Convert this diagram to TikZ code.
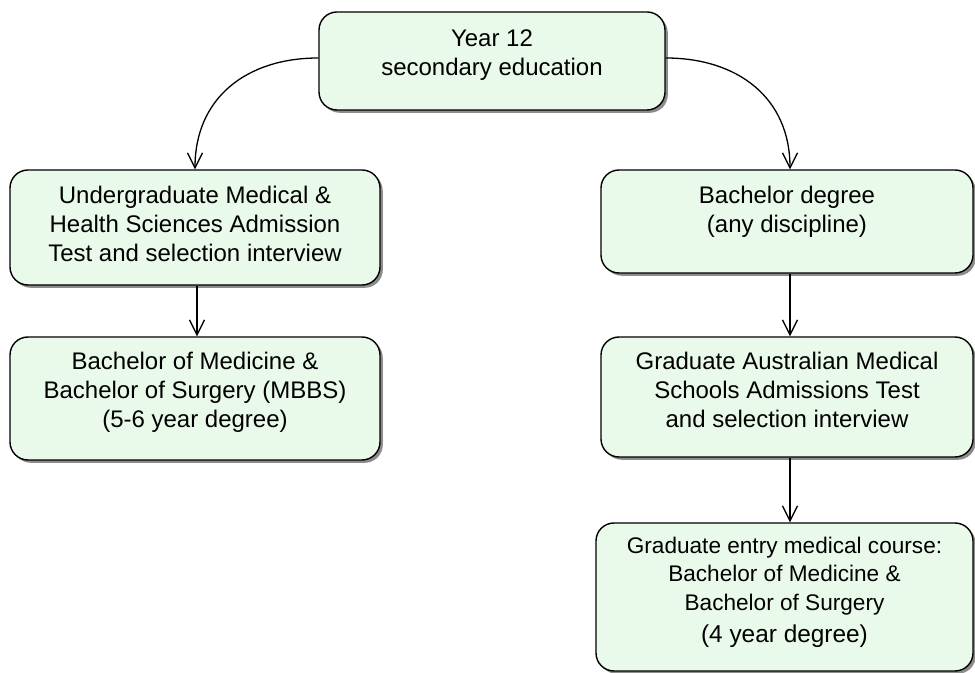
\documentclass[tikz,border=0pt]{standalone}
\usepackage{fontspec}
\setmainfont{Liberation Sans}
\usetikzlibrary{arrows.meta,shadows}
\definecolor{boxfill}{HTML}{EAFAEA}
\tikzset{
  box/.style={draw=black, line width=0.7pt, fill=boxfill, rounded corners=9pt, inner sep=0pt,
    drop shadow={shadow xshift=1.4pt, shadow yshift=-1.4pt, fill=black!45, opacity=1}},
  txt/.style={anchor=north, align=center, inner sep=0pt, font=\fontsize{12}{14.6}\selectfont},
  conn/.style={line width=0.65pt, -{Straight Barb[length=7.5pt,width=7.5pt,line width=0.65pt]}}
}
\begin{document}
\begin{tikzpicture}[x=0.5pt,y=-0.5pt]
\useasboundingbox (0,0) rectangle (975,673);
\node[box, minimum width=173pt, minimum height=49pt] (top) at (492,61) {};
\node[txt] (toptxt) at ([yshift=-9pt]top.north) {Year 12\\secondary education};

\node[box, minimum width=185pt, minimum height=57.5pt] (ug) at (195,227.5) {};
\node[txt] (ugtxt) at ([yshift=-8pt]ug.north) {Undergraduate Medical \&\\Health Sciences Admission\\Test and selection interview};

\node[box, minimum width=185pt, minimum height=61.5pt] (mbbs) at (195,398.5) {};
\node[txt] (mbbstxt) at ([yshift=-7.5pt]mbbs.north) {Bachelor of Medicine \&\\Bachelor of Surgery (MBBS)\\(5-6 year degree)};

\node[box, minimum width=186pt, minimum height=51.5pt] (bach) at (787,221.5) {};
\node[txt] (bachtxt) at ([yshift=-8pt]bach.north) {Bachelor degree\\(any discipline)};

\node[box, minimum width=186pt, minimum height=60pt] (gam) at (787,397) {};
\node[txt] (gamtxt) at ([yshift=-7.5pt]gam.north) {Graduate Australian Medical\\Schools Admissions Test\\and selection interview};

\node[box, minimum width=188.5pt, minimum height=74pt] (grad) at (784.5,597) {};
\node[txt, font=\fontsize{11.3}{14.4}\selectfont] (gradtxt) at ([yshift=-7pt]grad.north) {Graduate entry medical course:\\Bachelor of Medicine \&\\Bachelor of Surgery\\[1.5pt]{\fontsize{12.2}{14}\selectfont (4 year degree)}};

\draw[conn] ([yshift=1.5pt]top.west) to[out=180,in=90,looseness=1.1] ([xshift=0pt]ug.north);
\draw[conn] ([yshift=1.5pt]top.east) to[out=0,in=90,looseness=1.1] ([xshift=1.5pt]bach.north);
\draw[conn] ([xshift=1pt]ug.south) -- ([xshift=1pt]mbbs.north);
\draw[conn] ([xshift=1.5pt]bach.south) -- ([xshift=1.5pt]gam.north);
\draw[conn] ([xshift=1.5pt]gam.south) -- ([xshift=1.5pt]gam.south |- grad.north);
\end{tikzpicture}
\end{document}
